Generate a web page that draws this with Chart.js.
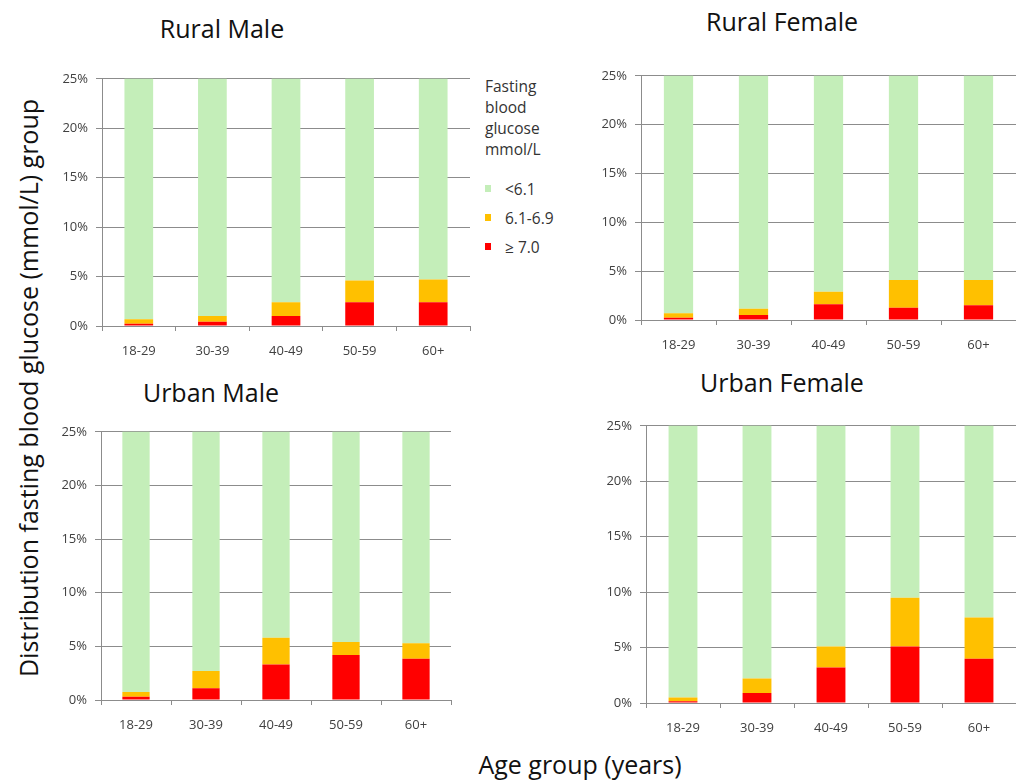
<!DOCTYPE html>
<html>
<head>
<meta charset="utf-8">
<script src="https://cdn.jsdelivr.net/npm/chart.js@4.4.1/dist/chart.umd.min.js"></script>
<style>
    body { margin: 0; background: #fff; width: 1016px; height: 781px; overflow: hidden; position: relative; font-family: 'Open Sans', sans-serif; color: #111; }
    canvas { position: absolute; }
    .title { position: absolute; transform: translate(-50%, -50%); font-size: 25px; white-space: nowrap; }
    .axis-title { position: absolute; font-size: 25px; white-space: nowrap; }
    #legend { position: absolute; left: 485px; top: 76px; font-size: 15.5px; color: #333; }
    #legend .head { line-height: 21px; margin-bottom: 14px; }
    #legend .item { height: 29px; display: flex; align-items: center; }
    #legend .swatch { width: 6px; height: 7px; margin-right: 14px; }
</style>
</head>
<body>

<div class="title" style="left:222px; top:28px;">Rural Male</div>
<div class="title" style="left:782px; top:21px;">Rural Female</div>
<div class="title" style="left:211px; top:392px;">Urban Male</div>
<div class="title" style="left:782px; top:382px;">Urban Female</div>

<div class="axis-title" id="y-title" style="left:28px; top:388px; transform: translate(-50%, -50%) rotate(-90deg);">Distribution fasting blood glucose (mmol/L) group</div>
<div class="axis-title" style="left:580px; top:764px; transform: translate(-50%, -50%);">Age group (years)</div>

<div id="legend"></div>

<canvas id="rural-male"></canvas>
<canvas id="rural-female"></canvas>
<canvas id="urban-male"></canvas>
<canvas id="urban-female"></canvas>

<script>
// Categories and legend groups
const ageGroups = ['18-29', '30-39', '40-49', '50-59', '60+'];
const glucoseGroups = ['<6.1', '6.1-6.9', '\u2265 7.0'];
const groupColors = ['#c4eeb9', '#ffc000', '#ff0000'];

// Percent of each age group (green runs far past the 25% axis max)
const ruralMaleLow = [99.3, 99.0, 97.6, 95.4, 95.3];
const ruralMaleMid = [0.44, 0.56, 1.4, 2.2, 2.3];
const ruralMaleHigh = [0.24, 0.44, 1.0, 2.4, 2.4];

const ruralFemaleLow = [99.3, 98.85, 97.1, 95.9, 95.9];
const ruralFemaleMid = [0.46, 0.65, 1.3, 2.85, 2.6];
const ruralFemaleHigh = [0.24, 0.5, 1.6, 1.25, 1.5];

const urbanMaleLow = [99.25, 97.3, 94.2, 94.6, 94.7];
const urbanMaleMid = [0.45, 1.6, 2.5, 1.2, 1.45];
const urbanMaleHigh = [0.3, 1.1, 3.3, 4.2, 3.85];

const urbanFemaleLow = [99.5, 97.8, 94.9, 90.5, 92.3];
const urbanFemaleMid = [0.35, 1.3, 1.9, 4.4, 3.7];
const urbanFemaleHigh = [0.15, 0.9, 3.2, 5.1, 4.0];

const yMax = 25;
const yStep = 5;

Chart.defaults.font.family = "'Open Sans', sans-serif";
Chart.defaults.color = '#404040';

const AXIS_W = 60;   // space left of the y axis line
const AXIS_H = 40;   // space under the x axis line
const TOP_GAP = 15;  // what chart.js keeps above the plot for the top tick label

/**
 * Build one stacked panel so that its plot area sits on the given box
 */
function makePanel(id, box, low, mid, high) {
    const canvas = document.getElementById(id);
    const padRight = box.padRight || 0;
    const w = box.right - box.left + AXIS_W + padRight;
    const h = box.bottom - box.top + TOP_GAP + AXIS_H;
    canvas.width = w;
    canvas.height = h;
    canvas.style.left = (box.left - AXIS_W) + 'px';
    canvas.style.top = (box.top - TOP_GAP) + 'px';

    // Bottom of the stack first
    const series = [high, mid, low];
    const colors = [groupColors[2], groupColors[1], groupColors[0]];
    const labels = [glucoseGroups[2], glucoseGroups[1], glucoseGroups[0]];

    return new Chart(canvas.getContext('2d'), {
        type: 'bar',
        data: {
            labels: ageGroups,
            datasets: series.map((values, i) => ({
                label: labels[i],
                data: values,
                backgroundColor: colors[i],
                borderWidth: 0,
                categoryPercentage: 1,
                barPercentage: 0.39
            }))
        },
        options: {
            responsive: false,
            animation: false,
            layout: { padding: { top: 0, right: padRight, left: 0, bottom: 0 } },
            plugins: {
                legend: { display: false },
                tooltip: { enabled: false }
            },
            scales: {
                x: {
                    stacked: true,
                    afterFit: (scale) => { scale.height = AXIS_H; },
                    grid: {
                        offset: true,
                        drawOnChartArea: false,
                        tickLength: 5,
                        color: '#8c8c8c'
                    },
                    border: { color: '#8c8c8c' },
                    ticks: {
                        padding: 12,
                        maxRotation: 0,
                        font: { size: 13 },
                        color: '#404040'
                    }
                },
                y: {
                    stacked: true,
                    min: 0,
                    max: yMax,
                    afterFit: (scale) => { scale.width = AXIS_W; },
                    grid: {
                        color: '#8c8c8c',
                        tickLength: 6
                    },
                    border: { color: '#8c8c8c' },
                    ticks: {
                        stepSize: yStep,
                        padding: 8,
                        font: { size: 13 },
                        color: '#404040',
                        callback: (value) => value + '%'
                    }
                }
            }
        }
    });
}

makePanel('rural-male', { left: 102, right: 470, top: 78, bottom: 326, padRight: 1 },
    ruralMaleLow, ruralMaleMid, ruralMaleHigh);
makePanel('rural-female', { left: 641, right: 1016, top: 75, bottom: 320 },
    ruralFemaleLow, ruralFemaleMid, ruralFemaleHigh);
makePanel('urban-male', { left: 101, right: 451, top: 431, bottom: 700, padRight: 1 },
    urbanMaleLow, urbanMaleMid, urbanMaleHigh);
makePanel('urban-female', { left: 646, right: 1016, top: 425, bottom: 703 },
    urbanFemaleLow, urbanFemaleMid, urbanFemaleHigh);

// Legend beside the first panel
const legendEl = document.getElementById('legend');
legendEl.innerHTML = '<div class="head">Fasting<br>blood<br>glucose<br>mmol/L</div>' +
    glucoseGroups.map((name, i) =>
        `<div class="item"><span class="swatch" style="background:${groupColors[i]}"></span>${name}</div>`
    ).join('');
</script>
</body>
</html>
